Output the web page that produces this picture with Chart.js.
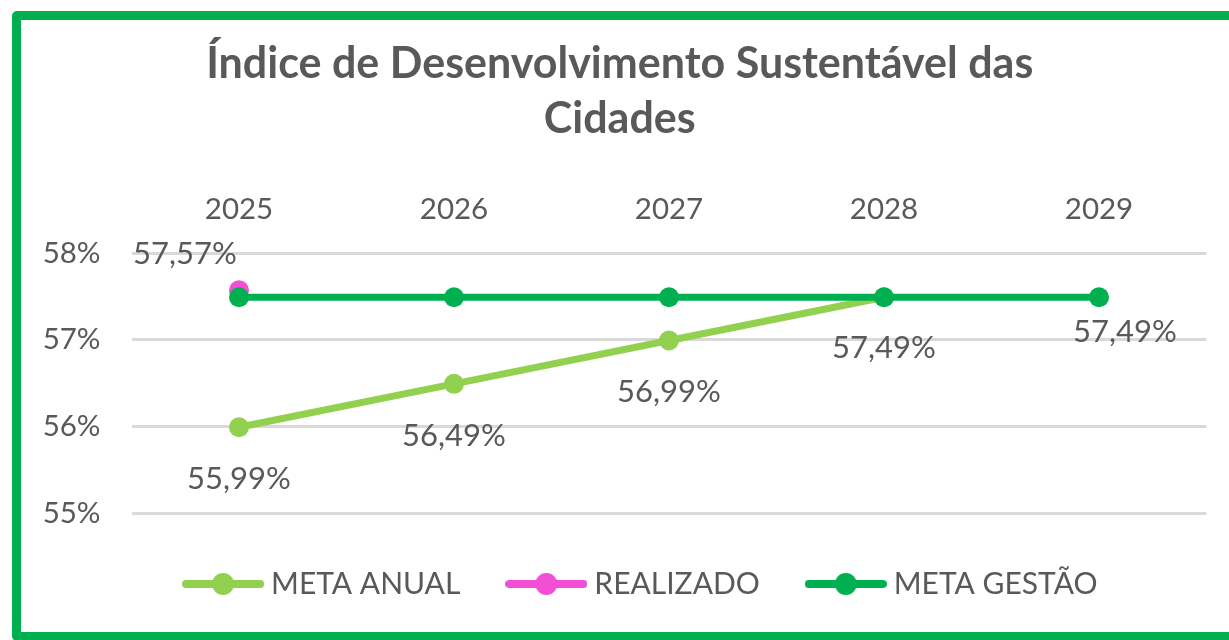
<!DOCTYPE html>
<html>
<head>
<meta charset="utf-8">
<script src="https://cdn.jsdelivr.net/npm/chart.js@4.4.1/dist/chart.umd.min.js"></script>
<style>
  html, body { margin: 0; padding: 0; background: #ffffff; }
  body { width: 1229px; height: 640px; position: relative; overflow: hidden; }
  #frame { position: absolute; left: 12px; top: 11px; width: 1260px; height: 612px; border: 9px solid #00b050; border-radius: 5px; background: #ffffff; }
  #wrap { position: absolute; left: 0; top: 0; width: 1229px; height: 640px; }
</style>
</head>
<body>
<div id="frame"></div>
<div id="wrap"><canvas id="c" width="1229" height="640"></canvas></div>
<script>
// ---- data ----
const categories = ['2025', '2026', '2027', '2028', '2029'];
const metaAnual = [55.99, 56.49, 56.99, 57.49, null];
const realizado = [57.57, null, null, null, null];
const metaGestao = [57.49, 57.49, 57.49, 57.49, 57.49];
const yTicks = [55, 56, 57, 58];
const seriesNames = ['META ANUAL', 'REALIZADO', 'META GESTÃO'];
const titleLines = ['Índice de Desenvolvimento Sustentável das', 'Cidades'];

// ---- styling ----
const TEXT = '#595959';
const FONT = 'Lato';
const colors = ['#92d050', '#f24fd6', '#00b050'];
// label placement per series (dx, dy from point), null = no label
const labelPlacement = [
  [[0, 52], [0, 52], [0, 51], [0, 51], null],
  [[-54, -36], null, null, null, null],
  [null, null, null, null, [26, 35]]
];
const LEGEND_SHIFT_X = 24;
const LEGEND_SHIFT_Y = 3;

function fmt(v) { return v.toFixed(2).replace('.', ',') + '%'; }

function makeIcon(color) {
  const cv = document.createElement('canvas');
  cv.width = 82; cv.height = 24;
  const g = cv.getContext('2d');
  g.strokeStyle = color; g.lineWidth = 8; g.lineCap = 'round';
  g.beginPath(); g.moveTo(4, 12); g.lineTo(78, 12); g.stroke();
  g.fillStyle = color;
  g.beginPath(); g.arc(41, 12, 11, 0, Math.PI * 2); g.fill();
  return cv;
}

const dataLabelPlugin = {
  id: 'valueLabels',
  afterLayout(chart) {
    const lg = chart.legend;
    if (lg) {
      lg.left += LEGEND_SHIFT_X; lg.right += LEGEND_SHIFT_X;
      lg.top += LEGEND_SHIFT_Y; lg.bottom += LEGEND_SHIFT_Y;
    }
  },
  afterDatasetsDraw(chart) {
    const ctx = chart.ctx;
    ctx.save();
    ctx.font = '31px ' + FONT;
    ctx.fillStyle = TEXT;
    ctx.textAlign = 'center';
    ctx.textBaseline = 'middle';
    chart.data.datasets.forEach((ds, di) => {
      const meta = chart.getDatasetMeta(di);
      meta.data.forEach((pt, i) => {
        const place = labelPlacement[di][i];
        const v = ds.data[i];
        if (!place || v === null || v === undefined) return;
        ctx.fillText(fmt(v), pt.x + place[0], pt.y + place[1]);
      });
    });
    ctx.restore();
  }
};

function lineDataset(label, data, color, order) {
  return {
    label: label,
    data: data,
    borderColor: color,
    backgroundColor: color,
    borderWidth: 7,
    pointRadius: 10,
    pointHoverRadius: 10,
    pointBackgroundColor: color,
    pointBorderColor: color,
    pointBorderWidth: 0,
    tension: 0,
    spanGaps: false,
    order: order,
    clip: false
  };
}

Chart.defaults.font.family = FONT;
Chart.defaults.color = TEXT;

new Chart(document.getElementById('c'), {
  type: 'line',
  data: {
    labels: categories,
    datasets: [
      lineDataset(seriesNames[0], metaAnual, colors[0], 2),
      lineDataset(seriesNames[1], realizado, colors[1], 1),
      lineDataset(seriesNames[2], metaGestao, colors[2], 0)
    ]
  },
  options: {
    responsive: false,
    animation: false,
    events: [],
    layout: { padding: { top: 0, left: 33, right: 22.5, bottom: 34 } },
    plugins: {
      tooltip: { enabled: false },
      title: {
        display: true,
        text: titleLines,
        color: TEXT,
        font: { family: FONT, size: 43, weight: 'bold', lineHeight: '55px' },
        padding: { top: 36.5, bottom: 46 }
      },
      legend: {
        display: true,
        position: 'bottom',
        labels: {
          usePointStyle: true,
          pointStyleWidth: 66,
          padding: 53,
          color: TEXT,
          font: { family: FONT, size: 30 },
          generateLabels(chart) {
            return chart.data.datasets.map((ds, i) => ({
              text: ds.label,
              pointStyle: makeIcon(ds.borderColor),
              datasetIndex: i,
              hidden: false,
              fontColor: TEXT,
              lineWidth: 0,
              strokeStyle: 'transparent',
              fillStyle: 'transparent'
            }));
          }
        }
      }
    },
    scales: {
      x: {
        position: 'top',
        offset: true,
        grid: { display: false, drawTicks: false },
        border: { display: false },
        ticks: { color: TEXT, font: { family: FONT, size: 29.5 }, padding: 25.5, maxRotation: 0 },
        afterFit(s) { s.height = 60.5; }
      },
      y: {
        min: yTicks[0],
        max: yTicks[yTicks.length - 1],
        grid: { color: '#d9d9d9', lineWidth: 3, drawTicks: false },
        border: { display: false },
        afterBuildTicks(s) { s.ticks = yTicks.map(v => ({ value: v })); },
        ticks: {
          color: TEXT,
          font: { family: FONT, size: 29.5 },
          padding: 31,
          callback: v => v + '%'
        },
        afterFit(s) { s.width = 98.5; }
      }
    }
  },
  plugins: [dataLabelPlugin]
});
</script>
</body>
</html>
